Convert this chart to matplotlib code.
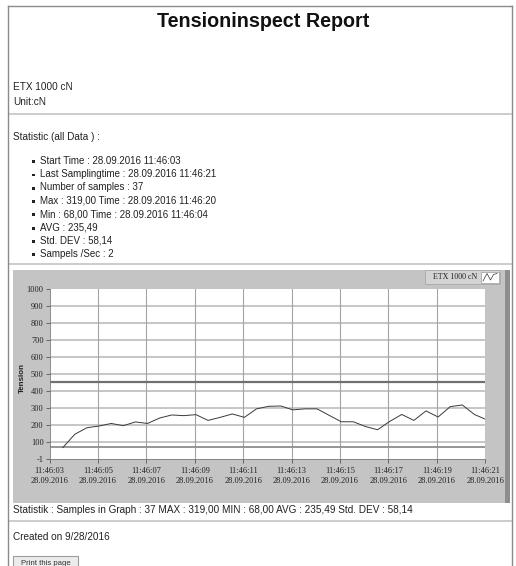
import matplotlib
matplotlib.use("Agg")
import matplotlib.pyplot as plt
from matplotlib.patches import Rectangle
from matplotlib.lines import Line2D

# ---- data ----
sample_sec = [3.55, 4.05, 4.55, 5.05, 5.55, 6.05, 6.55, 7.05, 7.55, 8.05, 8.55, 9.05,
              9.55, 10.05, 10.55, 11.05, 11.55, 12.05, 12.55, 13.05, 13.55, 14.05, 14.55, 15.05,
              15.55, 16.05, 16.55, 17.05, 17.55, 18.05, 18.55, 19.05, 19.55, 20.05, 20.55, 21.05]
tension = [68, 147, 185, 195, 210, 197, 219, 210, 242, 260, 256, 262,
           228, 246, 266, 246, 296, 311, 313, 290, 296, 296, 258, 220,
           220, 192, 173, 222, 263, 228, 284, 248, 309, 319, 263, 232]
upper_limit = 455
lower_limit = 70

x_ticks = [3, 5, 7, 9, 11, 13, 15, 17, 19, 21]
x_labels = ["11:46:03\n28.09.2016", "11:46:05\n28.09.2016", "11:46:07\n28.09.2016",
            "11:46:09\n28.09.2016", "11:46:11\n28.09.2016", "11:46:13\n28.09.2016",
            "11:46:15\n28.09.2016", "11:46:17\n28.09.2016", "11:46:19\n28.09.2016",
            "11:46:21\n28.09.2016"]
y_ticks = [-1, 100, 200, 300, 400, 500, 600, 700, 800, 900, 1000]

stats_lines = [
    "Start Time : 28.09.2016 11:46:03",
    "Last Samplingtime : 28.09.2016 11:46:21",
    "Number of samples : 37",
    "Max : 319,00 Time : 28.09.2016 11:46:20",
    "Min : 68,00 Time : 28.09.2016 11:46:04",
    "AVG : 235,49",
    "Std. DEV : 58,14",
    "Sampels /Sec : 2",
]
graph_stats = "Statistik : Samples in Graph : 37 MAX : 319,00 MIN : 68,00 AVG : 235,49 Std. DEV : 58,14"

W, H = 516, 566
plt.rcParams['font.family'] = ['Liberation Sans', 'DejaVu Sans']


def fx(x):
    return x / W


def fy(y):
    return 1 - y / H


def hline(fig, y, x0, x1, color, lw=1.0, z=1):
    fig.add_artist(Line2D([fx(x0), fx(x1)], [fy(y), fy(y)], color=color, lw=lw, zorder=z))


def box(fig, x0, y0, x1, y1, z=1, **kw):
    fig.add_artist(Rectangle((fx(x0), fy(y1)), (x1 - x0) / W, (y1 - y0) / H, zorder=z, **kw))


fig = plt.figure(figsize=(W / 100, H / 100), dpi=100, facecolor='white')

# page border
hline(fig, 6, 8, 512, '#8a8a8a')
fig.add_artist(Line2D([fx(8), fx(8)], [fy(6), 0], color='#8a8a8a', lw=1.0))
fig.add_artist(Line2D([fx(512), fx(512)], [fy(6), 0], color='#8a8a8a', lw=1.0))

# header
fig.text(fx(263.5), fy(27), "Tensioninspect Report", ha='center', va='baseline',
         fontsize=14.2, fontweight='bold', color='#111111')
body = dict(fontsize=7.2, color='#222222', va='baseline', ha='left')
fig.text(fx(13), fy(90), "ETX 1000 cN", **body)
fig.text(fx(13), fy(105), "Unit:cN", **body)
hline(fig, 114, 9, 511, '#c4c4c4', lw=1.2)
fig.text(fx(13), fy(140), "Statistic (all Data ) :", **body)

for i, line in enumerate(stats_lines):
    base = 163.8 + i * 13.3
    box(fig, 32, base - 3.6, 35, base - 0.8, facecolor='#222222', edgecolor='none')
    fig.text(fx(39.5), fy(base), line, fontsize=7.05, color='#222222', va='baseline', ha='left')

hline(fig, 263.5, 9, 511, '#c4c4c4', lw=1.2)

# chart panel (kept below the axes)
box(fig, 13.3, 270, 505, 503, z=-2, facecolor='#c4c4c4', edgecolor='none')
box(fig, 505, 270, 509.5, 503, z=-2, facecolor='#8e8e8e', edgecolor='none')

# legend
box(fig, 425, 270, 500, 284, facecolor='#d4d4d4', edgecolor='#a8a8a8', lw=0.6)
fig.text(fx(455), fy(277.5), "ETX 1000 cN", ha='center', va='center',
         fontsize=5.8, family='Liberation Serif', color='#222222')
box(fig, 481, 271.5, 498.5, 282.5, facecolor='white', edgecolor='#9a9a9a', lw=0.5)
fig.add_artist(Line2D([fx(483), fx(487), fx(490.5), fx(493.5), fx(497)],
                      [fy(281), fy(273.5), fy(280), fy(274.5), fy(273.5)],
                      color='#333333', lw=0.5))

# plot area
ax = fig.add_axes([fx(49.5), fy(459.3), (485.3 - 49.5) / W, (459.3 - 289.3) / H])
ax.set_zorder(2)
ax.set_facecolor('white')
ax.set_xlim(3, 21)
ax.set_ylim(-1, 1000)

for yv in y_ticks[1:-1]:
    ax.axhline(yv, color='#c6c6c6', lw=1.4, zorder=1)
for xv in x_ticks[1:-1]:
    ax.axvline(xv, color='#a4a4a4', lw=0.8, zorder=1)
ax.axhline(upper_limit, color='#707070', lw=1.6, zorder=2)
ax.axhline(lower_limit, color='#8e8e8e', lw=1.3, zorder=2)

ax.plot(sample_sec, tension, color='#3a3a3a', lw=0.7, zorder=3)

ax.set_xticks(x_ticks)
ax.set_xticklabels(x_labels, family='Liberation Serif', fontsize=6.0, linespacing=1.3)
ax.set_yticks(y_ticks)
ax.set_yticklabels([str(v) for v in y_ticks], family='Liberation Serif', fontsize=6.0)
ax.tick_params(axis='both', length=3, width=0.6, color='#555555',
               labelcolor='#222222')
ax.tick_params(axis='x', pad=2.5)
ax.tick_params(axis='y', pad=1.2)
for side in ['top', 'right']:
    ax.spines[side].set_visible(False)
for side in ['left', 'bottom']:
    ax.spines[side].set_color('#7a7a7a')
    ax.spines[side].set_linewidth(0.6)

fig.text(fx(22), fy(378), "Tension", rotation=90, ha='center', va='center',
         fontsize=5.8, fontweight='bold', color='#222222')

# footer
fig.text(fx(13), fy(513), graph_stats, **body)
hline(fig, 521, 9, 511, '#c4c4c4', lw=1.2)
fig.text(fx(13), fy(540.5), "Created on 9/28/2016", **body)
box(fig, 13.3, 556, 78.3, 572, facecolor='#ececec', edgecolor='#9c9c9c', lw=0.8)
fig.text(fx(45.8), fy(565), "Print this page", ha='center', va='baseline',
         fontsize=5.6, color='#333333')

fig.savefig("out.png", dpi=100)
